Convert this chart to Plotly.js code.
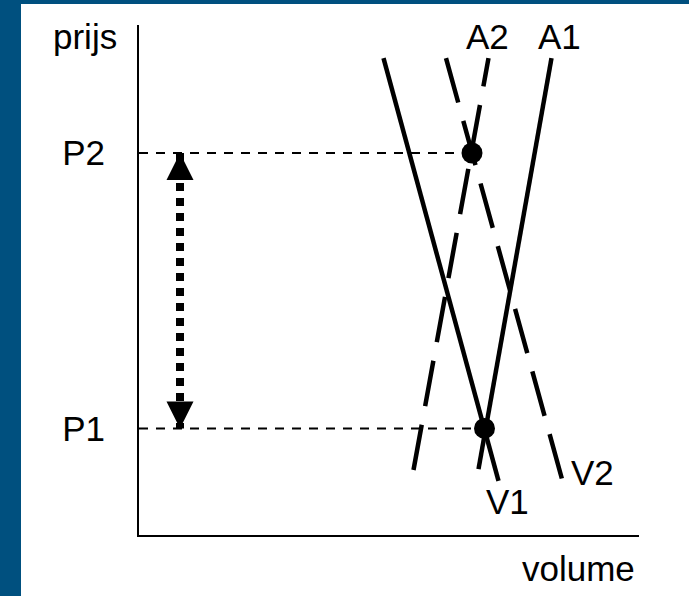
<!DOCTYPE html>
<html>
<head>
<meta charset="utf-8">
<script src="https://cdn.plot.ly/plotly-3.0.1.min.js"></script>
<style>
  html, body { margin: 0; padding: 0; background: #00507f; width: 689px; height: 596px; overflow: hidden; }
  #chart { position: absolute; left: 21px; top: 4px; width: 668px; height: 592px; background: #ffffff; }
</style>
</head>
<body>
<div id="chart"></div>
<script>
// ---- data (axes are in arbitrary 0..100 units) ----
const curveLabels = ['V1', 'A1', 'V2', 'A2'];
const v1X = [48.9, 71.9];   // demand curve 1 (solid), top -> bottom
const v1Y = [93.5, 10.6];
const a1X = [82.5, 67.9];   // supply curve 1 (solid), top -> bottom
const a1Y = [93.5, 12.9];
const v2X = [61.4, 84.7];   // demand curve 2 (dashed), top -> bottom
const v2Y = [93.5, 10.6];
const a2X = [54.9, 69.9];   // supply curve 2 (dashed), bottom -> top
const a2Y = [12.75, 93.5];

const priceLevels = [20.9, 74.9];
const priceLabels = ['P1', 'P2'];
const equilibriumX = [69.1, 66.6];
const equilibriumY = [20.9, 74.9];

const arrowX = [8.2, 8.2];
const arrowY = [74.9, 20.9];
const arrowSymbols = ['arrow-up', 'arrow-down'];

// label anchor positions (data units)
const labelX = [73.6, 84.0, 90.6, 69.6];
const labelY = [6.5, 97.8, 12.2, 97.8];

const FONT = 'Liberation Sans, Arial, Helvetica, sans-serif';

const traces = [];
// horizontal dashed guide lines from the price axis to each equilibrium
for (let i = 0; i < priceLevels.length; i++) {
  traces.push({
    x: [0, equilibriumX[i]], y: [priceLevels[i], priceLevels[i]],
    mode: 'lines', line: {color: '#000', width: 2, dash: '9px,8px'},
    hoverinfo: 'skip', showlegend: false, cliponaxis: false
  });
}
// curves
traces.push({x: v1X, y: v1Y, mode: 'lines', line: {color: '#000', width: 4.5}, showlegend: false});
traces.push({x: a1X, y: a1Y, mode: 'lines', line: {color: '#000', width: 4.5}, showlegend: false});
traces.push({x: v2X, y: v2Y, mode: 'lines', line: {color: '#000', width: 4.5, dash: '46px,19px'}, showlegend: false});
traces.push({x: a2X, y: a2Y, mode: 'lines', line: {color: '#000', width: 4.5, dash: '46px,19px'}, showlegend: false});
// dotted double arrow shaft
traces.push({x: arrowX, y: arrowY, mode: 'lines', line: {color: '#000', width: 8, dash: '8px,7px'}, showlegend: false});
// arrow heads
traces.push({x: arrowX, y: arrowY, mode: 'markers',
  marker: {symbol: arrowSymbols, size: 27, color: '#000', line: {width: 0}}, showlegend: false});
// equilibrium points
traces.push({x: equilibriumX, y: equilibriumY, mode: 'markers',
  marker: {symbol: 'circle', size: 21, color: '#000', line: {width: 0}}, showlegend: false, cliponaxis: false});

const annotations = curveLabels.map((t, i) => ({
  x: labelX[i], y: labelY[i], xref: 'x', yref: 'y', text: t, showarrow: false,
  xanchor: 'center', yanchor: 'middle', font: {family: FONT, size: 35, color: '#000'}
}));
annotations.push({x: -0.108, y: 0.978, xref: 'paper', yref: 'paper', text: 'prijs', showarrow: false,
  xanchor: 'center', yanchor: 'middle', font: {family: FONT, size: 35, color: '#000'}});
annotations.push({x: 0.878, y: -0.065, xref: 'paper', yref: 'paper', text: 'volume', showarrow: false,
  xanchor: 'center', yanchor: 'middle', font: {family: FONT, size: 35, color: '#000'}});

const layout = {
  width: 668, height: 592,
  margin: {l: 118, r: 50, t: 21, b: 61, pad: 0},
  paper_bgcolor: '#ffffff', plot_bgcolor: '#ffffff',
  showlegend: false, hovermode: false,
  xaxis: {range: [0, 100], showline: true, linecolor: '#000', linewidth: 2, showgrid: false,
          zeroline: false, showticklabels: false, ticks: '', fixedrange: true},
  yaxis: {range: [0, 100], showline: true, linecolor: '#000', linewidth: 2, showgrid: false,
          zeroline: false, ticks: '', tickvals: priceLevels, ticktext: priceLabels,
          ticklabelstandoff: 25, tickfont: {family: FONT, size: 35, color: '#000'}, fixedrange: true},
  annotations: annotations
};

Plotly.newPlot('chart', traces, layout, {staticPlot: true, displayModeBar: false});
</script>
</body>
</html>
